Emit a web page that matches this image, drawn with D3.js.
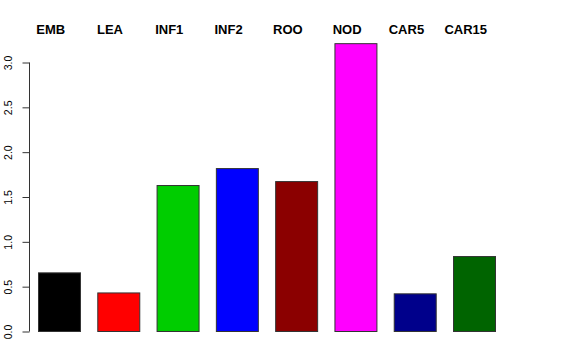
<!DOCTYPE html>
<html>
<head>
<meta charset="utf-8">
<script src="https://cdn.jsdelivr.net/npm/d3@7"></script>
<style>
  body { margin: 0; background: #fff; }
  svg { display: block; }
</style>
</head>
<body>
<div id="chart"></div>
<script>
const categories = ["EMB", "LEA", "INF1", "INF2", "ROO", "NOD", "CAR5", "CAR15"];
const values = [0.654, 0.43, 1.628, 1.817, 1.672, 3.21, 0.42, 0.836];
const barColors = ["#000000", "#FF0000", "#00CD00", "#0000FF", "#8B0000", "#FF00FF", "#00008B", "#006400"];
const yTicks = [0, 0.5, 1, 1.5, 2, 2.5, 3];

const width = 576, height = 360;

const svg = d3.select("#chart")
  .append("svg")
  .attr("width", width)
  .attr("height", height);

const xScale = d3.scaleBand()
  .domain(categories)
  .range([38, 495])
  .paddingInner(0.292)
  .paddingOuter(0);

const yScale = d3.scaleLinear().domain([0, 3]).range([331, 62]);

// bars
svg.selectAll("rect.bar")
  .data(values)
  .enter()
  .append("rect")
  .attr("class", "bar")
  .attr("x", (d, i) => xScale(categories[i]) + 0.5)
  .attr("y", d => yScale(d) + 0.5)
  .attr("width", xScale.bandwidth())
  .attr("height", d => yScale(0) - yScale(d))
  .attr("fill", (d, i) => barColors[i])
  .attr("stroke", "#333")
  .attr("stroke-width", 1);

// y axis, R style with rotated labels
const yAxis = svg.append("g")
  .attr("transform", "translate(29.5, 0.5)")
  .call(d3.axisLeft(yScale).tickValues(yTicks).tickFormat(d3.format(".1f")).tickSize(7).tickSizeOuter(0));

yAxis.select(".domain")
  .attr("d", `M0,${yScale(0)}V${yScale(3)}`)
  .attr("stroke", "#333");
yAxis.selectAll(".tick line").attr("stroke", "#333");
yAxis.selectAll(".tick text")
  .attr("x", null).attr("dy", null)
  .attr("transform", "translate(-18,0) rotate(-90)")
  .attr("text-anchor", "middle")
  .style("font-family", "'Liberation Sans', Arial, sans-serif")
  .style("font-size", "10.5px")
  .attr("fill", "#000");

// category labels along the top
svg.selectAll("text.cat")
  .data(categories)
  .enter()
  .append("text")
  .attr("class", "cat")
  .attr("x", d => xScale(d) + xScale.bandwidth() / 2 - 8.3)
  .attr("y", 34)
  .attr("text-anchor", "middle")
  .style("font-family", "'Liberation Sans', Arial, sans-serif")
  .style("font-weight", "bold")
  .style("font-size", "13px")
  .text(d => d);
</script>
</body>
</html>
